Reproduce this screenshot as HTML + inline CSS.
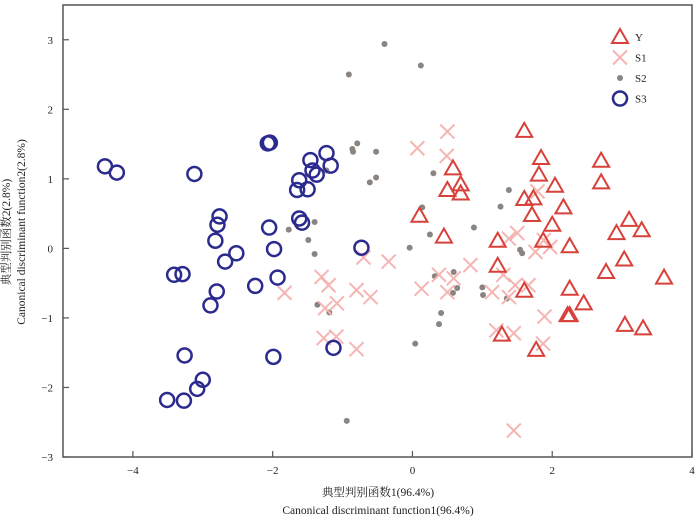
<!DOCTYPE html>
<html><head><meta charset="utf-8"><style>
body{margin:0;background:#fff;width:700px;height:521px;overflow:hidden}
text{font-family:"Liberation Serif","Noto Serif CJK SC",serif;fill:#222}
</style></head><body>
<svg id="chart" width="700" height="521" viewBox="0 0 700 521" xmlns="http://www.w3.org/2000/svg"></svg>
<script>
const xTicks=[-4,-2,0,2,4];
const yTicks=[-3,-2,-1,0,1,2,3];
const seriesNames=["Y","S1","S2","S3"];
const yX=[1.60,1.84,2.70,0.58,1.81,2.70,0.69,2.04,0.50,0.69,1.60,1.73,2.16,0.10,1.71,3.10,2.00,2.92,3.28,0.45,1.22,1.87,2.25,3.03,1.22,2.77,3.60,1.60,2.25,2.45,2.22,2.25,3.04,3.30,1.28,1.77];
const yY=[1.69,1.30,1.26,1.15,1.06,0.95,0.92,0.90,0.84,0.79,0.71,0.72,0.59,0.47,0.48,0.41,0.34,0.22,0.26,0.17,0.11,0.11,0.03,-0.16,-0.25,-0.34,-0.42,-0.61,-0.58,-0.79,-0.96,-0.96,-1.10,-1.15,-1.24,-1.46];
const s1X=[-1.83,-1.30,-1.20,-0.70,-0.34,-0.80,-0.60,-1.08,-1.25,-1.27,-1.09,-0.80,0.50,0.07,0.49,1.79,1.50,1.38,1.88,1.97,1.76,0.83,0.38,0.13,0.59,0.50,1.14,1.30,1.47,1.66,1.38,1.89,1.20,1.45,1.87,1.45];
const s1Y=[-0.64,-0.41,-0.53,-0.13,-0.19,-0.60,-0.70,-0.79,-0.86,-1.29,-1.27,-1.45,1.68,1.44,1.33,0.82,0.22,0.14,0.12,0.02,-0.05,-0.24,-0.38,-0.58,-0.43,-0.63,-0.63,-0.38,-0.53,-0.53,-0.70,-0.98,-1.18,-1.22,-1.37,-2.62];
const s2X=[-0.40,-0.91,-0.86,-0.79,-0.85,-0.52,-0.61,-0.52,-1.23,-1.40,-1.77,-1.49,-1.40,-0.04,-1.36,-1.19,-0.94,0.12,0.30,1.38,0.14,1.26,0.88,0.25,1.54,1.57,0.32,0.59,0.64,0.58,1.00,1.01,1.35,0.41,0.38,0.04];
const s2Y=[2.94,2.50,1.43,1.51,1.39,1.39,0.95,1.02,1.12,0.38,0.27,0.12,-0.08,0.01,-0.81,-0.92,-2.48,2.63,1.08,0.84,0.59,0.60,0.30,0.20,-0.02,-0.07,-0.40,-0.34,-0.57,-0.64,-0.56,-0.67,-0.72,-0.93,-1.09,-1.37];
const s3X=[-4.40,-4.23,-3.12,-2.07,-2.04,-1.46,-1.23,-1.17,-1.43,-1.37,-1.62,-1.65,-1.50,-2.76,-2.79,-2.05,-1.62,-1.58,-2.82,-1.98,-2.52,-2.68,-0.73,-3.41,-3.29,-1.93,-2.25,-2.80,-2.89,-1.13,-3.26,-1.99,-3.00,-3.08,-3.51,-3.27];
const s3Y=[1.18,1.09,1.07,1.51,1.52,1.27,1.37,1.19,1.12,1.06,0.98,0.84,0.85,0.46,0.34,0.30,0.43,0.37,0.11,-0.01,-0.07,-0.19,0.01,-0.38,-0.37,-0.42,-0.54,-0.62,-0.82,-1.43,-1.54,-1.56,-1.89,-2.02,-2.18,-2.19];

const svg=document.getElementById('chart');
const NS="http://www.w3.org/2000/svg";
const L=63,R=692,T=5,B=457;
const xMin=-5,xMax=4,yMin=-3,yMax=3.5;
function sx(v){return L+(v-xMin)/(xMax-xMin)*(R-L);}
function sy(v){return B-(v-yMin)/(yMax-yMin)*(B-T);}
function mk(tag,attrs,parent){const e=document.createElementNS(NS,tag);for(const k in attrs)e.setAttribute(k,attrs[k]);(parent||svg).appendChild(e);return e;}

const frame=mk('rect',{x:L,y:T,width:R-L,height:B-T,fill:'none',stroke:'#555','stroke-width':1.5});



xTicks.forEach(v=>{
  const t=mk('line',{x1:sx(v),x2:sx(v),y1:B,y2:B-6,stroke:'#555','stroke-width':1.2});
  
  
  const lb=mk('text',{x:sx(v),y:B+17,'text-anchor':'middle','font-size':11});
  lb.textContent=v<0?'\u2212'+(-v):String(v);
  
  
});
yTicks.forEach(v=>{
  const t=mk('line',{x1:L,x2:L+6,y1:sy(v),y2:sy(v),stroke:'#555','stroke-width':1.2});
  
  
  const lb=mk('text',{x:L-10,y:sy(v)+4,'text-anchor':'end','font-size':11});
  lb.textContent=v<0?'\u2212'+(-v):String(v);
  
  
});

function drawMarker(type,cx,cy,g){
  if(type==='Y'){
    mk('polygon',{points:`${cx},${cy-8} ${cx-8},${cy+6} ${cx+8},${cy+6}`,fill:'none',stroke:'#d8403a','stroke-width':2},g);
  }else if(type==='S1'){
    mk('path',{d:`M${cx-7},${cy-7}L${cx+7},${cy+7}M${cx-7},${cy+7}L${cx+7},${cy-7}`,stroke:'#f5b5b3','stroke-width':2,fill:'none'},g);
  }else if(type==='S2'){
    mk('circle',{cx:cx,cy:cy,r:3,fill:'#8a8580'},g);
  }else{
    mk('circle',{cx:cx,cy:cy,r:7,fill:'none',stroke:'#2b2a8e','stroke-width':2.5},g);
  }
}
const sets=[['S2',s2X,s2Y],['S1',s1X,s1Y],['Y',yX,yY],['S3',s3X,s3Y]];
sets.forEach(([name,xs,ys])=>{
  const g=mk('g',{});
  
  
  xs.forEach((v,i)=>{
    const p=mk('g',{},g);
    
    
    drawMarker(name,sx(v),sy(ys[i]),p);
  });
});

const lg=mk('g',{});


seriesNames.forEach((n,i)=>{
  const e=mk('g',{},lg);
  
  
  const cy=37+i*20.5;
  drawMarker(n,620,cy,e);
  const t=mk('text',{x:635,y:cy+4,'font-size':11},e);
  t.textContent=n;
});

const xt1=mk('text',{x:378,y:496,'text-anchor':'middle','font-size':11.5});
xt1.textContent='典型判别函数1(96.4%)';


const xt2=mk('text',{x:378,y:514,'text-anchor':'middle','font-size':11.5});
xt2.textContent='Canonical discriminant function1(96.4%)';


const yt1=mk('text',{x:0,y:0,'text-anchor':'middle','font-size':11.5,transform:'translate(10,232) rotate(-90)'});
yt1.textContent='典型判别函数2(2.8%)';


const yt2=mk('text',{x:0,y:0,'text-anchor':'middle','font-size':11.5,transform:'translate(25,232) rotate(-90)'});
yt2.textContent='Canonical discriminant function2(2.8%)';


</script>
</body></html>
